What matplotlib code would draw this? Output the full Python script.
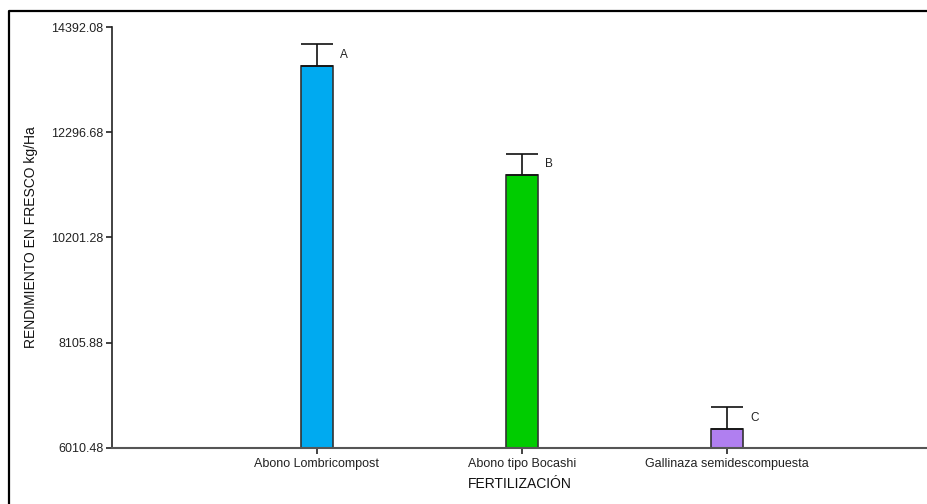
import matplotlib
matplotlib.use('Agg')
import matplotlib.pyplot as plt
from matplotlib.lines import Line2D
import numpy as np

plt.rcParams['font.family'] = ['Liberation Sans', 'DejaVu Sans']

categorias = ['Abono Lombricompost', 'Abono tipo Bocashi', 'Gallinaza semidescompuesta']
rendimiento = [13621, 11451, 6395]
error_sup = [426, 419, 426]
letras = ['A', 'B', 'C']
colores = ['#00AAF0', '#00CC00', '#B07FF0']
yticks = [6010.48, 8105.88, 10201.28, 12296.68, 14392.08]

fig = plt.figure(figsize=(9.27, 5.04), dpi=100)
ax = fig.add_axes([112/927, 1-448/504, 1-112/927, (448-27)/504])

x = np.arange(1, len(categorias)+1)
ancho = 0.156
base = yticks[0]
alturas = np.array(rendimiento) - base
ax.bar(x, alturas, width=ancho, bottom=base, color=colores,
       edgecolor='#333333', linewidth=1.2, zorder=2)
ax.errorbar(x, rendimiento, yerr=[np.zeros(len(x)), error_sup], fmt='none',
            ecolor='#111111', elinewidth=1.2, capsize=11.5, capthick=1.2, zorder=3)
for xi, v, e, l in zip(x, rendimiento, error_sup, letras):
    ax.text(xi+ancho/2+0.035, v+e/2, l, fontsize=8.5, color='#222222',
            ha='left', va='center')

ax.set_xlim(0, (927-112)/205)
ax.set_ylim(yticks[0], yticks[-1])
ax.set_yticks(yticks)
ax.set_yticklabels(['%.2f' % t for t in yticks])
ax.set_xticks(x)
ax.set_xticklabels(categorias)
ax.tick_params(axis='both', labelsize=9, colors='#222222', length=4, width=1.2)
ax.tick_params(axis='y', pad=2)
ax.tick_params(axis='x', pad=3)
for s in ['top', 'right']:
    ax.spines[s].set_visible(False)
ax.spines['left'].set_color('#222222')
ax.spines['bottom'].set_color('#555555')
ax.spines['left'].set_linewidth(1.2)
ax.spines['bottom'].set_linewidth(1.5)

ax.set_ylabel('RENDIMIENTO EN FRESCO kg/Ha', fontsize=10, color='#111111', labelpad=10)
ax.set_xlabel('FERTILIZACIÓN', fontsize=10, color='#111111', labelpad=5)

# marco exterior
fig.add_artist(Line2D([8.5/927, 8.5/927, 1], [0, 1-10.5/504, 1-10.5/504],
                      transform=fig.transFigure, color='black', linewidth=1.6))

fig.savefig('out.png', dpi=100)
